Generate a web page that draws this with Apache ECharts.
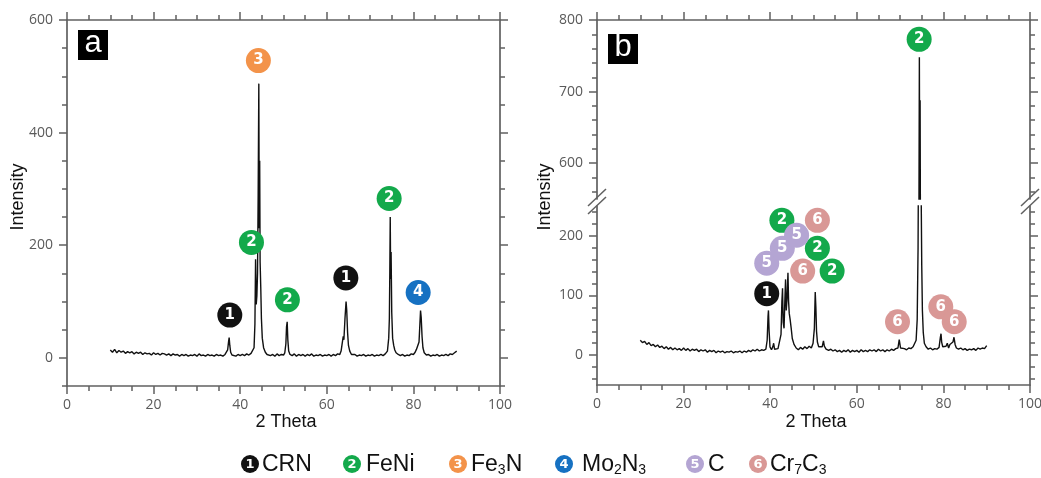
<!DOCTYPE html>
<html>
<head>
<meta charset="utf-8">
<title>XRD patterns a / b</title>
<script src="https://cdn.jsdelivr.net/npm/echarts@6/dist/echarts.min.js"></script>
<style>
html, body { margin: 0; padding: 0; background: #fff; }
#main { width: 1041px; height: 478px; }
</style>
</head>
<body>
<div id="main"></div>
<script>
// phases (index + 1 is the number shown in the circles)
const phaseLabels = ['CRN', 'FeNi', 'Fe{s|3}N', 'Mo{s|2}N{s|3}', 'C', 'Cr{s|7}C{s|3}']
const phaseColors = ['#111111', '#13a94b', '#f3934a', '#1671c2', '#b4a5d3', '#d99896']

// axis ticks
const thetaTicks = [0, 20, 40, 60, 80, 100]
const thetaMinor = [5, 10, 15, 25, 30, 35, 45, 50, 55, 65, 70, 75, 85, 90, 95]
const intensityTicksA = [0, 200, 400, 600]
const intensityMinorA = [-50, 50, 100, 150, 250, 300, 350, 450, 500, 550]
const intensityTicksBHigh = [600, 700, 800]
const intensityMinorBHigh = [560, 580, 620, 640, 660, 680, 720, 740, 760, 780]
const intensityTicksBLow = [0, 100, 200]
const intensityMinorBLow = [-40, -20, 20, 40, 60, 80, 120, 140, 160, 180, 220, 240]

// pattern a : [2 theta, intensity]
const scanA = [
  [10, 14], [10.5, 10], [11, 15], [11.5, 9], [12, 13], [12.5, 10], [13, 12], [13.5, 8], [14, 11], [14.5, 9],
  [15, 11], [15.5, 7], [16, 10], [16.5, 8], [17, 10], [17.5, 6], [18, 9], [18.5, 7], [19, 8], [19.5, 5],
  [20, 9], [20.5, 6], [21, 8], [21.5, 5], [22, 8], [22.5, 7], [23, 5], [23.5, 7], [24, 4], [24.5, 7],
  [25, 5], [25.5, 6], [26, 3], [26.5, 6], [27, 4], [27.5, 6], [28, 3], [28.5, 5], [29, 4], [29.5, 6],
  [30, 3], [30.5, 7], [31, 4], [31.5, 5], [32, 3], [32.5, 6], [33, 4], [33.5, 5], [34, 3], [34.5, 6],
  [35, 4], [35.5, 5], [36, 3], [36.5, 6], [36.8, 8], [37.1, 14], [37.3, 28], [37.45, 36], [37.6, 22], [37.8, 10],
  [38.1, 5], [38.5, 6], [39, 3], [39.5, 6], [40, 4], [40.5, 6], [41, 4], [41.5, 7], [42, 5], [42.5, 8],
  [42.9, 10], [43.2, 18], [43.4, 60], [43.55, 175], [43.7, 95], [43.85, 110], [44, 150], [44.15, 290], [44.3, 487], [44.4, 230],
  [44.5, 350], [44.6, 170], [44.75, 125], [44.9, 70], [45.1, 35], [45.4, 18], [45.8, 10], [46.2, 6], [46.5, 8], [47, 4],
  [47.5, 6], [48, 3], [48.5, 7], [49, 4], [49.5, 6], [50, 5], [50.3, 9], [50.55, 25], [50.7, 55], [50.85, 64],
  [51, 32], [51.2, 12], [51.5, 6], [52, 4], [52.5, 7], [53, 3], [53.5, 6], [54, 4], [54.5, 6], [55, 3],
  [55.5, 6], [56, 4], [56.5, 7], [57, 3], [57.5, 5], [58, 4], [58.5, 6], [59, 3], [59.5, 5], [60, 4],
  [60.5, 6], [61, 3], [61.5, 6], [62, 4], [62.5, 7], [63, 6], [63.3, 12], [63.6, 28], [63.8, 38], [63.95, 32],
  [64.2, 70], [64.45, 100], [64.6, 85], [64.8, 45], [65, 22], [65.3, 12], [65.7, 6], [66, 4], [66.5, 6], [67, 3],
  [67.5, 5], [68, 4], [68.5, 6], [69, 3], [69.5, 5], [70, 4], [70.5, 6], [71, 3], [71.5, 5], [72, 4],
  [72.5, 6], [73, 4], [73.5, 7], [74, 12], [74.3, 35], [74.45, 70], [74.55, 150], [74.65, 250], [74.75, 140], [74.85, 188],
  [75, 80], [75.2, 35], [75.45, 22], [75.7, 14], [76, 9], [76.5, 6], [77, 4], [77.5, 6], [78, 3], [78.5, 5],
  [79, 4], [79.5, 7], [80, 6], [80.4, 10], [80.7, 15], [81, 12], [81.3, 28], [81.5, 60], [81.65, 84], [81.8, 72],
  [82, 38], [82.2, 18], [82.5, 9], [83, 5], [83.5, 6], [84, 3], [84.5, 5], [85, 4], [85.5, 6], [86, 3],
  [86.5, 5], [87, 4], [87.5, 6], [88, 4], [88.5, 7], [89, 6], [89.5, 9], [90, 12]
]

// pattern b : [2 theta, intensity]
const scanB = [
  [10, 25], [10.5, 21], [11, 23], [11.5, 18], [12, 21], [12.5, 16], [13, 18], [13.5, 14], [14, 17], [14.5, 13],
  [15, 15], [15.5, 11], [16, 14], [16.5, 10], [17, 13], [17.5, 9], [18, 12], [18.5, 9], [19, 11], [19.5, 8],
  [20, 12], [20.5, 8], [21, 11], [21.5, 7], [22, 10], [22.5, 8], [23, 10], [23.5, 6], [24, 9], [24.5, 7],
  [25, 9], [25.5, 5], [26, 8], [26.5, 6], [27, 8], [27.5, 4], [28, 7], [28.5, 5], [29, 7], [29.5, 4],
  [30, 6], [30.5, 5], [31, 7], [31.5, 4], [32, 6], [32.5, 5], [33, 7], [33.5, 4], [34, 7], [34.5, 5],
  [35, 8], [35.5, 6], [36, 9], [36.5, 7], [37, 10], [37.5, 7], [38, 9], [38.5, 8], [39, 10], [39.3, 25],
  [39.5, 65], [39.6, 75], [39.75, 40], [39.95, 14], [40.3, 9], [40.6, 14], [40.8, 20], [41, 10], [41.4, 8], [41.8, 11],
  [42.2, 14], [42.5, 35], [42.7, 90], [42.85, 112], [43, 55], [43.2, 45], [43.4, 95], [43.55, 127], [43.7, 75], [43.9, 95],
  [44.1, 138], [44.25, 90], [44.4, 70], [44.6, 60], [44.85, 45], [45.1, 28], [45.5, 18], [46, 12], [46.5, 9], [47, 13],
  [47.5, 10], [48, 14], [48.5, 11], [49, 15], [49.5, 12], [49.9, 20], [50.2, 45], [50.4, 106], [50.55, 80], [50.7, 40],
  [50.9, 22], [51.2, 14], [51.6, 11], [52, 14], [52.3, 24], [52.5, 15], [52.9, 10], [53.5, 8], [54, 10], [54.5, 7],
  [55, 9], [55.5, 6], [56, 8], [56.5, 5], [57, 8], [57.5, 6], [58, 9], [58.5, 5], [59, 8], [59.5, 6],
  [60, 8], [60.5, 5], [61, 9], [61.5, 6], [62, 8], [62.5, 6], [63, 9], [63.5, 7], [64, 9], [64.5, 6],
  [65, 10], [65.5, 7], [66, 9], [66.5, 6], [67, 9], [67.5, 7], [68, 10], [68.5, 8], [69, 11], [69.5, 12],
  [69.8, 26], [70.1, 12], [70.5, 9], [71, 11], [71.5, 9], [72, 12], [72.5, 11], [73, 14], [73.4, 16], [73.7, 25],
  [73.95, 60], [74.15, 180], [74.3, 420], [74.45, 748], [74.55, 520], [74.62, 688], [74.75, 380], [74.9, 240], [75, 150], [75.15, 75],
  [75.35, 38], [75.6, 20], [76, 14], [76.5, 10], [77, 12], [77.5, 9], [78, 11], [78.5, 10], [79, 13], [79.3, 30],
  [79.45, 36], [79.6, 22], [79.85, 14], [80.2, 11], [80.6, 15], [80.9, 20], [81.2, 12], [81.5, 18], [81.9, 20], [82.2, 22],
  [82.45, 30], [82.7, 18], [83, 12], [83.5, 10], [84, 12], [84.5, 9], [85, 11], [85.5, 8], [86, 10], [86.5, 9],
  [87, 11], [87.5, 8], [88, 12], [88.5, 10], [89, 12], [89.5, 11], [90, 16]
]

// peak labels : [2 theta, intensity, phase number]
const peaksA = [
  [37.6, 76, 1], [42.6, 205, 2], [44.2, 528, 3], [50.9, 103, 2],
  [64.4, 142, 1], [74.4, 283, 2], [81.1, 116, 4]
]
const peaksB = [
  [74.4, 773, 2], [39.2, 103, 1], [42.7, 226, 2], [50.9, 226, 6], [50.9, 179, 2],
  [47.5, 141, 6], [54.3, 141, 2], [69.4, 56, 6], [79.4, 81, 6], [82.5, 56, 6],
  [39.2, 154, 5], [42.8, 179, 5], [46.1, 201, 5]
]

const frameColor = '#606060'
const tickFont = { color: '#5a5a5a', fontSize: 14, fontFamily: 'Open Sans' }

// one side of a frame = an axis with long ticks (+ labels) and one with short ticks
function frameSide (grid, pos, min, max, major, minor, labels) {
  const isX = pos === 'top' || pos === 'bottom'
  const base = {
    type: 'value', gridIndex: grid, position: pos, min: min, max: max,
    splitLine: { show: false }, silent: true
  }
  return [
    Object.assign({}, base, {
      axisLine: { show: true, onZero: false, lineStyle: { color: frameColor, width: 1.7 } },
      axisTick: { show: true, inside: false, length: 8, customValues: major, lineStyle: { color: frameColor, width: 1.5 } },
      axisLabel: Object.assign({ show: labels, customValues: major, margin: isX ? 12 : 14 }, tickFont)
    }),
    Object.assign({}, base, {
      axisLine: { show: false, onZero: false },
      axisTick: { show: true, inside: false, length: 5, customValues: minor, lineStyle: { color: frameColor, width: 1.5 } },
      axisLabel: { show: false }
    })
  ]
}

const xAxes = [].concat(
  frameSide(0, 'bottom', 0, 100, thetaTicks, thetaMinor, true), // 0,1
  frameSide(0, 'top', 0, 100, thetaTicks, thetaMinor, false), // 2,3
  frameSide(1, 'top', 0, 100, thetaTicks, thetaMinor, false), // 4,5
  frameSide(2, 'bottom', 0, 100, thetaTicks, thetaMinor, true) // 6,7
)
const yAxes = [].concat(
  frameSide(0, 'left', -50, 600, intensityTicksA, intensityMinorA, true), // 0,1
  frameSide(0, 'right', -50, 600, intensityTicksA, intensityMinorA, false), // 2,3
  frameSide(1, 'left', 550, 800, intensityTicksBHigh, intensityMinorBHigh, true), // 4,5
  frameSide(1, 'right', 550, 800, intensityTicksBHigh, intensityMinorBHigh, false), // 6,7
  frameSide(2, 'left', -50, 250, intensityTicksBLow, intensityMinorBLow, true), // 8,9
  frameSide(2, 'right', -50, 250, intensityTicksBLow, intensityMinorBLow, false) // 10,11
)

function scanSeries (data, xi, yi) {
  return {
    type: 'line', data: data, xAxisIndex: xi, yAxisIndex: yi,
    showSymbol: false, clip: true, silent: true,
    lineStyle: { color: '#111', width: 1.4 }
  }
}
function peakSeries (data, xi, yi) {
  return {
    type: 'scatter', data: data, xAxisIndex: xi, yAxisIndex: yi,
    symbol: 'circle', symbolSize: 25, clip: true, silent: true, z: 5,
    itemStyle: { color: p => phaseColors[p.value[2] - 1], opacity: 1 },
    label: {
      show: true, position: 'inside', formatter: p => String(p.value[2]),
      color: '#fff', fontSize: 15, fontWeight: 'bold', fontFamily: 'DejaVu Sans'
    }
  }
}

// legend drawn as graphics (numbered circles)
const legendCircleX = [250, 352, 458, 564, 695, 758]
const legendTextX = [262, 366, 471, 582, 708, 770]
const legendItems = []
phaseLabels.forEach((lab, i) => {
  legendItems.push({
    type: 'circle', shape: { cx: legendCircleX[i], cy: 464, r: 9 },
    style: { fill: phaseColors[i] }, silent: true
  })
  legendItems.push({
    type: 'text', x: legendCircleX[i], y: 464.5, silent: true,
    style: {
      text: String(i + 1), fill: '#fff', fontSize: 13, fontWeight: 'bold', fontFamily: 'DejaVu Sans',
      align: 'center', verticalAlign: 'middle', textAlign: 'center', textVerticalAlign: 'middle'
    }
  })
  legendItems.push({
    type: 'text', x: legendTextX[i], y: 465, silent: true,
    style: {
      text: lab, fill: '#111', fontSize: 23, fontFamily: 'Liberation Sans', lineHeight: 24,
      align: 'left', verticalAlign: 'middle', textAlign: 'left', textVerticalAlign: 'middle',
      rich: { s: { fontSize: 14, lineHeight: 10, verticalAlign: 'bottom', fill: '#111', fontFamily: 'Liberation Sans' } }
    }
  })
})

function centerText (txt, x, y, size, rot) {
  return {
    type: 'text', x: x, y: y, rotation: rot || 0, silent: true,
    style: {
      text: txt, fill: '#111', fontSize: size, fontFamily: 'Liberation Sans',
      align: 'center', verticalAlign: 'middle', textAlign: 'center', textVerticalAlign: 'middle'
    }
  }
}
function panelTag (letter, x, y) {
  return [
    { type: 'rect', shape: { x: x, y: y, width: 30, height: 30 }, style: { fill: '#000' }, silent: true },
    {
      type: 'text', x: x + 15, y: y + 13, silent: true,
      style: {
        text: letter, fill: '#fff', fontSize: 31, fontFamily: 'Liberation Sans',
        align: 'center', verticalAlign: 'middle', textAlign: 'center', textVerticalAlign: 'middle'
      }
    }
  ]
}
function breakMark (x) {
  return [
    { type: 'line', shape: { x1: x - 9, y1: 206, x2: x + 9, y2: 189 }, style: { stroke: frameColor, lineWidth: 1.5 }, silent: true },
    { type: 'line', shape: { x1: x - 9, y1: 214, x2: x + 9, y2: 197 }, style: { stroke: frameColor, lineWidth: 1.5 }, silent: true }
  ]
}

const chart = echarts.init(document.getElementById('main'), null, { width: 1041, height: 478 })
chart.setOption({
  animation: false,
  backgroundColor: '#fff',
  grid: [
    { left: 67, top: 20, width: 433, height: 366, outerBoundsMode: 'none' },
    { left: 597, top: 20, width: 433, height: 179, outerBoundsMode: 'none' },
    { left: 597, top: 206, width: 433, height: 179, outerBoundsMode: 'none' }
  ],
  xAxis: xAxes,
  yAxis: yAxes,
  series: [
    scanSeries(scanA, 0, 0),
    scanSeries(scanB, 4, 4),
    scanSeries(scanB, 6, 8),
    peakSeries(peaksA, 0, 0),
    peakSeries(peaksB, 4, 4),
    peakSeries(peaksB, 6, 8)
  ],
  graphic: [].concat(
    panelTag('a', 78, 30),
    panelTag('b', 608, 34),
    breakMark(597),
    breakMark(1030),
    [
      centerText('Intensity', 18, 197, 18, Math.PI / 2),
      centerText('Intensity', 545, 197, 18, Math.PI / 2),
      centerText('2 Theta', 286, 422, 18),
      centerText('2 Theta', 816, 422, 18)
    ],
    legendItems
  )
})
</script>
</body>
</html>
